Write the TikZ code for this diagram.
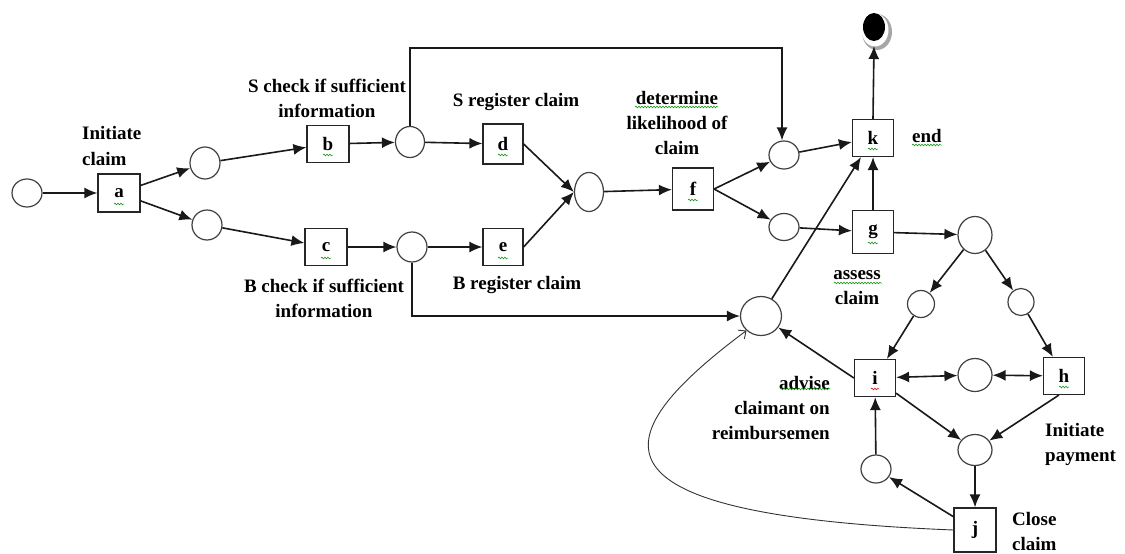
\documentclass[tikz,border=0pt]{standalone}
\usepackage{fontspec}
\setmainfont{Liberation Serif}
\usetikzlibrary{arrows.meta,shapes.geometric,decorations.pathmorphing}
\begin{document}
\begin{tikzpicture}[x=1pt,y=-1pt,
  place/.style 2 args={ellipse, draw=black!75, line width=1.2pt, fill=white,
    inner sep=0pt, minimum width=#1, minimum height=#2},
  trans/.style 2 args={rectangle, draw=black!85, line width=1.2pt, fill=white,
    inner sep=0pt, minimum width=#1, minimum height=#2,
    font=\fontsize{19}{19}\selectfont\bfseries},
  lbl/.style={font=\fontsize{19}{25}\selectfont\bfseries, inner sep=0pt},
  arc/.style={line width=1.6pt, draw=black!90, -{Latex[length=13pt,width=11pt]}},
  biarc/.style={line width=1.6pt, draw=black!90, {Latex[length=13pt,width=11pt]}-{Latex[length=13pt,width=11pt]}},
  backarc/.style={line width=0.9pt, draw=black!80, -{Straight Barb[length=6pt,width=11pt]}},
  spell/.style={decorate, decoration={snake, amplitude=0.9pt, segment length=3pt},
    draw=green!55!black, line width=0.5pt},
  spellred/.style={spell, draw=red!75!black}
]
\useasboundingbox (0,0) rectangle (1125,554);

% places
\node[place={30pt}{28pt}] (p0)  at (27,193) {};
\node[place={30pt}{32pt}] (p1)  at (205,163) {};
\node[place={30pt}{30pt}] (p2)  at (207,225) {};
\node[place={29pt}{31pt}] (p3)  at (410,142) {};
\node[place={30pt}{30pt}] (p4)  at (412,247) {};
\node[place={29pt}{39pt}] (p5)  at (589,192) {};
\node[place={30pt}{28pt}] (p6)  at (784,155) {};
\node[place={30pt}{27pt}] (p7)  at (784,227) {};
\node[place={34pt}{37pt}] (p8)  at (975,235) {};
\node[place={27pt}{27pt}] (p9)  at (921,304) {};
\node[place={26pt}{27pt}] (p10) at (1021,302) {};
\node[place={41pt}{39pt}] (p11) at (761,316) {};
\node[place={34pt}{33pt}] (p12) at (975,375) {};
\node[place={34pt}{31pt}] (p13) at (975,450) {};
\node[place={30pt}{28pt}] (p14) at (876,469) {};

% final token
\fill[black!35] (877,32) ellipse (15 and 18);
\fill[white] (875,30) ellipse (13.5 and 16.5);
\node[ellipse, fill=black, inner sep=0pt, minimum width=22pt, minimum height=28pt,
  outer sep=5pt] (fin) at (874,27) {};

% transitions
\node[trans={42pt}{38pt}] (a) at (119,193) {a};
\node[trans={42pt}{37pt}] (b) at (328,144) {b};
\node[trans={42pt}{37pt}] (c) at (326,247) {c};
\node[trans={40pt}{40pt}] (d) at (503,144) {d};
\node[trans={40pt}{37pt}] (e) at (503,247) {e};
\node[trans={41pt}{42pt}] (f) at (693,189) {f};
\node[trans={41pt}{37pt}] (k) at (873,138) {k};
\node[trans={41pt}{43pt}] (g) at (873,232) {g};
\node[trans={41pt}{37pt}] (i) at (875,378) {i};
\node[trans={41pt}{37pt}] (h) at (1064,376) {h};
\node[trans={42pt}{44pt}] (j) at (975,530) {j};

% labels
\node[lbl, anchor=west, align=left] (la) at (82,146) {Initiate\\claim};
\node[lbl, align=center] (lb) at (327,98) {S check if sufficient\\information};
\node[lbl, align=center] (lc) at (324,298) {B check if sufficient\\information};
\node[lbl] (ld) at (516,102) {S register claim};
\node[lbl] (le) at (517,285) {B register claim};
\node[lbl, align=center] (lf) at (677,123) {determine\\likelihood of\\claim};
\node[lbl] (lk) at (927,136) {end};
\node[lbl, align=center] (lg) at (857,288) {assess\\claim};
\node[lbl, anchor=east, align=right] (li) at (830,408) {advise\\claimant on\\reimbursemen};
\node[lbl, anchor=west, align=left] (lh) at (1045,444) {Initiate\\payment};
\node[lbl, anchor=west, align=left] (lj) at (1012,531) {Close\\claim};

% spelling marks
\foreach \n in {a,b,c,d,e,f,k,g,h}
  \draw[spell] ([xshift=-5pt,yshift=-11pt]\n.center) -- ++(10,0);
\draw[spellred] ([xshift=-4pt,yshift=-11pt]i.center) -- ++(8,0);
\draw[spell] (635,107) -- (718,107);
\draw[spell] (912,145) -- (942,145);
\draw[spell] (834,283) -- (882,283);
\draw[spell] (780,389) -- (830,389);

% arcs
\draw[arc] (p0) -- (a);
\draw[arc] (a) -- (p1);
\draw[arc] (a) -- (p2);
\draw[arc] (p1) -- (b);
\draw[arc] (p2) -- (c);
\draw[arc] (b) -- (p3);
\draw[arc] (c) -- (p4);
\draw[arc] (p3) -- (d);
\draw[arc] (p4) -- (e);
\coordinate (looptop) at (782,48);
\draw[arc] (p3.north) |- (looptop) -- (looptop |- p6.north);
\draw[arc] (p4.south) |- (p11.west);
\draw[arc] (d.east) -- (p5.west);
\draw[arc] (e.east) -- (p5.west);
\draw[arc] (p5) -- (f);
\draw[arc] (f.east) -- (p6);
\draw[arc] (f.east) -- (p7);
\draw[arc] (p6) -- (k);
\draw[arc] (p7) -- (g);
\draw[arc] (g) -- (k);
\draw[arc] (k.north) -- (fin.south);
\draw[arc] (g) -- (p8);
\draw[arc] (p11) -- (k);
\draw[arc] (p8) -- (p9);
\draw[arc] (p8) -- (p10);
\draw[arc] (p9) -- (i);
\draw[arc] (p10) -- (h);
\draw[biarc] (i) -- (p12);
\draw[biarc] (p12) -- (h);
\draw[arc] (i.west) -- (p11);
\draw[arc] (i) -- (p13);
\draw[arc] (h.255) -- (p13);
\draw[arc] (p13) -- (j);
\draw[arc] (j) -- (p14);
\draw[arc] (p14) -- (i);
\draw[backarc] (j.west) .. controls (580,515) and (600,440) .. (p11.225);
\end{tikzpicture}
\end{document}
